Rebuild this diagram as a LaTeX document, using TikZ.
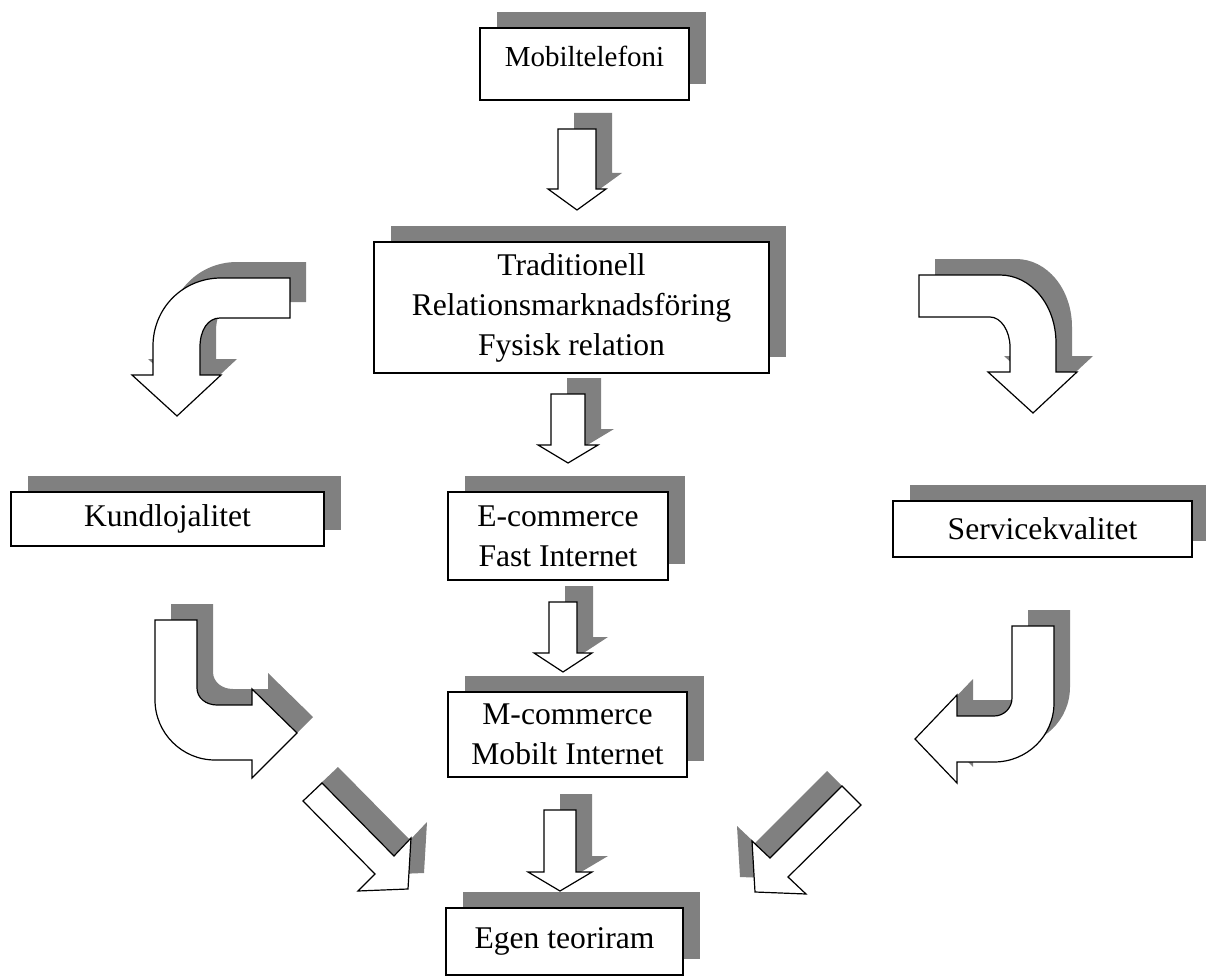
\documentclass[tikz,border=0pt]{standalone}
\usepackage{fontspec}
\setmainfont{Liberation Serif}
\usetikzlibrary{shadows}
\definecolor{skuggfarg}{gray}{0.5}
\tikzset{
  ruta/.style={draw, line width=0.6pt, fill=white, inner sep=0pt, align=center,
    font=\fontsize{15.8}{20}\selectfont,
    drop shadow={shadow xshift=8.25pt, shadow yshift=8pt, fill=skuggfarg, opacity=1}},
  pil/.style={draw=black, fill=white, line width=0.6pt, line join=miter},
  skugga/.style={fill=skuggfarg}
}
% form med skugga: #1 skuggans forskjutning, #2 stigen
\newcommand{\skuggform}[2]{%
  \fill[skugga, shift={#1}] #2;
  \path[pil] #2;}
% nedatpil: x, topp, huvudets bas, spets, halv skaftbredd, halv huvudbredd
\newcommand{\nedpil}[6]{%
  \skuggform{(16,-16)}{({#1-#5},#2) -- ({#1+#5},#2) -- ({#1+#5},#3) -- ({#1+#6},#3)
    -- (#1,#4) -- ({#1-#6},#3) -- ({#1-#5},#3) -- cycle}}
\begin{document}
\begin{tikzpicture}[x=0.5pt,y=-0.5pt]
  \useasboundingbox (0,0) rectangle (1206,979);
  % raka pilar
  \nedpil{577}{129}{189}{210}{19}{29}
  \nedpil{568}{394}{445}{463}{17}{30}
  \nedpil{563}{602}{653}{672}{14}{29}
  \nedpil{560}{810}{872}{891}{16}{32}
  % bojda pilar
  \skuggform{(16,-16)}{(290,278) -- (290,318) -- (220,318) .. controls (208,318) and (200,330) .. (200,347)
    -- (200,375) -- (221,375) -- (177,416) -- (132,375) -- (153,375) -- (153,346)
    .. controls (153,308) and (183,278) .. (221,278) -- cycle}
  \skuggform{(16,-16)}{(919,275) -- (1000,275) .. controls (1031,275) and (1056,305) .. (1056,343)
    -- (1056,372) -- (1077,372) -- (1033,413) -- (988,372) -- (1010,372) -- (1010,347)
    .. controls (1010,331) and (1001,317) .. (990,317) -- (919,317) -- cycle}
  \skuggform{(16,-16)}{(155,620) -- (197,620) -- (197,688) .. controls (197,698) and (206,705) .. (217,705)
    -- (252,705) -- (252,689) -- (297,733) -- (252,778) -- (252,760) -- (215,760)
    .. controls (182,760) and (155,733) .. (155,700) -- cycle}
  \skuggform{(16,-16)}{(1012,626) -- (1054,626) -- (1054,703) .. controls (1054,736) and (1027,762) .. (994,762)
    -- (957,762) -- (957,783) -- (915,739) -- (957,695) -- (957,716) -- (994,716)
    .. controls (1004,716) and (1012,708) .. (1012,698) -- cycle}
  % sneda pilar
  \skuggform{(16,-16)}{(303,801) -- (322,783) -- (394,856) -- (411,838) -- (408,889) -- (358,891) -- (375,874) -- cycle}
  \skuggform{(-15,-15)}{(842,786) -- (861,805) -- (788,877) -- (806,894) -- (755,892) -- (752,841) -- (770,858) -- cycle}
  % rutor
  \node[ruta, minimum width=104.5pt, minimum height=36pt, text depth=7.9pt,
    font=\fontsize{14.5}{18}\selectfont] (mobil) at (584.5,64) {Mobiltelefoni};
  \node[ruta, minimum width=197.5pt, minimum height=65.5pt] (trad) at (571.5,307.5)
    {Traditionell\\Relationsmarknadsföring\\Fysisk relation};
  \node[ruta, minimum width=156.5pt, minimum height=27pt] (kund) at (167.5,519) {Kundlojalitet};
  \node[ruta, minimum width=110pt, minimum height=44pt] (ecom) at (558,536) {E-commerce\\Fast Internet};
  \node[ruta, minimum width=149.5pt, minimum height=28pt] (serv) at (1042.5,529) {Servicekvalitet};
  \node[ruta, minimum width=119.5pt, minimum height=42.5pt] (mcom) at (567.5,734.5) {M-commerce\\Mobilt Internet};
  \node[ruta, minimum width=118.5pt, minimum height=33.5pt] (egen) at (564.5,941.5) {Egen teoriram};
\end{tikzpicture}
\end{document}
